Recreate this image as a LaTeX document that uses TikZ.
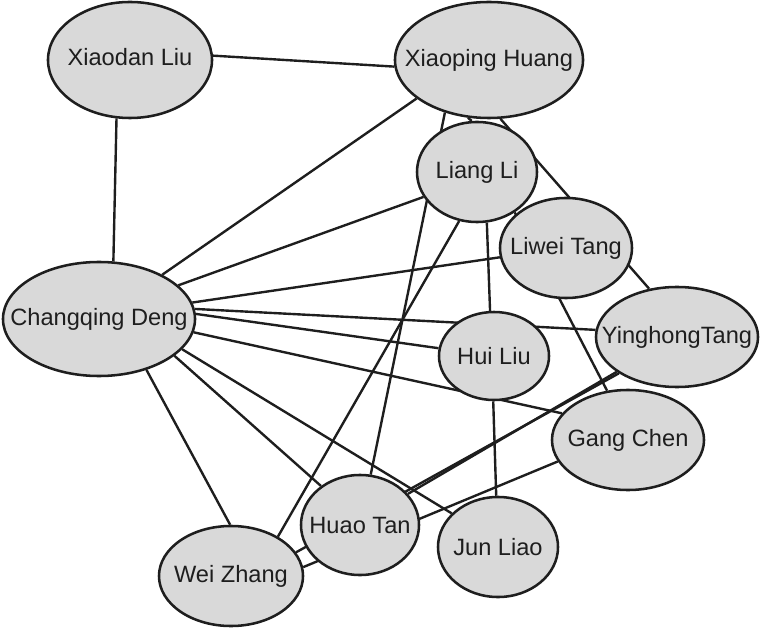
\documentclass[tikz,border=0pt]{standalone}
\usepackage{fontspec}
\setmainfont{Liberation Sans}
\usepackage{xcolor}
\usepackage{tikz}
\usetikzlibrary{shapes.geometric, backgrounds}
\definecolor{personfill}{RGB}{217, 217, 217}
\definecolor{inkline}{RGB}{30, 30, 30}
% name that does not widen its ellipse
\newcommand{\who}[1]{\makebox[0pt]{#1}}

\tikzset{
    person/.style={ellipse, draw=inkline, line width=1.8pt, fill=personfill, inner sep=0pt,
        font=\fontsize{16.8}{20}\selectfont, text=inkline},
    tie/.style={draw=inkline, line width=1.7pt}
}

\begin{document}
\begin{tikzpicture}[x=0.025cm, y=-0.025cm]
        \useasboundingbox (0, 0) rectangle (760, 628);

        % People
        \node[person, minimum width=4.1cm, minimum height=2.9cm] (xl) at (130, 60) {\raisebox{0.17cm}{\who{Xiaodan Liu}}};
        \node[person, minimum width=4.7cm, minimum height=2.9cm] (xh) at (489, 60) {\who{Xiaoping Huang}};
        \node[person, minimum width=3.0cm, minimum height=2.5cm] (ll) at (477, 172) {\who{Liang Li}};
        \node[person, minimum width=3.3cm, minimum height=2.5cm] (lt) at (566, 248) {\who{Liwei Tang}};
        \node[person, minimum width=4.05cm, minimum height=2.5cm] (yt) at (677, 337) {\who{YinghongTang}};
        \node[person, minimum width=4.8cm, minimum height=2.85cm] (cd) at (99, 319) {\who{Changqing Deng}};
        \node[person, minimum width=2.75cm, minimum height=2.2cm] (hl) at (494, 356) {\who{Hui Liu}};
        \node[person, minimum width=3.8cm, minimum height=2.5cm] (gc) at (628, 440) {\who{Gang Chen}};
        \node[person, minimum width=2.95cm, minimum height=2.5cm] (ht) at (360, 525) {\who{Huao Tan}};
        \node[person, minimum width=3.0cm, minimum height=2.5cm] (jl) at (498, 547) {\who{Jun Liao}};
        \node[person, minimum width=3.6cm, minimum height=2.5cm] (wz) at (231, 576) {\who{Wei Zhang}};

        % Links (behind the people)
        \begin{pgfonlayer}{background}
            \draw[tie] (xl.3) -- (xh.184);
            \draw[tie] (xl.257) -- (cd.76);
            \draw[tie] (cd.35) -- (xh.208);
            \draw[tie] (cd.23) -- (ll.205);
            \draw[tie] (cd.10) -- (lt.188);
            \draw[tie] (cd.6) -- (yt.175);
            \draw[tie] (cd.3) -- (hl.172);
            \draw[tie] (cd.352) -- (gc.158);
            \draw[tie] (cd.340) -- (jl.144);
            \draw[tie] (cd.334) -- (ht.135);
            \draw[tie] (cd.313) -- (wz.91);
            \draw[tie] (xh.250) -- (ll.96);
            \draw[tie] (xh.230) -- (ht.78);
            \draw[tie] (xh.281) -- (yt.120);
            \draw[tie] (ll.281) -- (hl.95);
            \draw[tie] (ll.313) -- (gc.113);
            \draw[tie] (ll.250) -- (wz.40);
            \draw[tie] (hl.269) -- (jl.92);
            \draw[tie] (yt.210) -- (ht.33);
            \draw[tie] (yt.212) -- (wz.20);
            \draw[tie] (gc.197) -- (wz.7);
        \end{pgfonlayer}
    \end{tikzpicture}
\end{document}
